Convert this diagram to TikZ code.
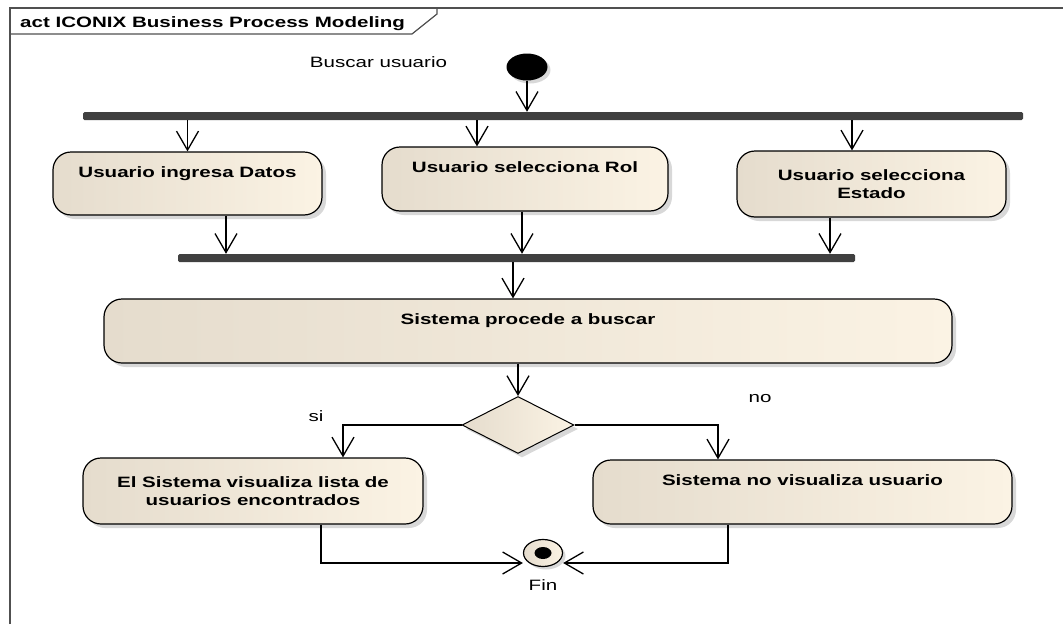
\documentclass[tikz,border=0pt]{standalone}
\usepackage{fontspec}
\setmainfont[FakeStretch=1.37]{Liberation Sans}
\usetikzlibrary{positioning,shapes.geometric,shadows,arrows.meta}

\definecolor{boxleft}{RGB}{229,220,205}
\definecolor{boxright}{RGB}{251,243,228}
\definecolor{bardark}{RGB}{64,64,64}
\definecolor{framegray}{RGB}{80,80,80}

\begin{document}
\begin{tikzpicture}[
x=1pt, y=-1pt,
node distance=8.5pt,
font=\fontsize{15}{18}\selectfont,
box/.style={rectangle, draw, line width=1.2pt, rounded corners=18pt, align=center, inner sep=0pt,
  left color=boxleft, right color=boxright,
  drop shadow={shadow xshift=4pt, shadow yshift=-4pt, fill=black!30},
  font=\fontsize{15}{18}\selectfont\bfseries},
bar/.style={rectangle, fill=bardark, rounded corners=1.5pt, minimum height=8pt, inner sep=0pt},
decision/.style={diamond, draw, line width=1pt, inner sep=0pt, minimum width=112pt, minimum height=57pt,
  left color=boxleft, right color=boxright,
  drop shadow={shadow xshift=4pt, shadow yshift=-4pt, fill=black!30}},
startnode/.style={ellipse, fill=black, minimum width=41pt, minimum height=27pt, inner sep=0pt,
  drop shadow={shadow xshift=3pt, shadow yshift=-3pt, fill=black!30}},
endnode/.style={ellipse, draw, line width=1.2pt, minimum width=39pt, minimum height=27pt, inner sep=0pt,
  left color=boxleft, right color=boxright,
  drop shadow={shadow xshift=3pt, shadow yshift=-3pt, fill=black!30}},
flow/.style={-{Straight Barb[length=19pt,width=22pt]}, line width=1.3pt}
]

\useasboundingbox (0,0) rectangle (1063,624);

\draw[framegray, line width=2pt] (10,624) -- (10,8) -- (1063,8);
\draw[framegray, line width=1.2pt] (10,34) -- (412,34) -- (437,14) -- (437,8);
\node[anchor=base west, inner sep=0pt, font=\fontsize{15}{18}\selectfont\bfseries] (title) at (20,27) {act ICONIX Business Process Modeling};

\node (buscar) at (378.5,62) {Buscar usuario};
\node[startnode] (start) at (527,67) {};

\node[bar, minimum width=940pt] (bar1) at (553,116) {};

\node[box, minimum width=269pt, minimum height=63pt] (datos) at (187.5,183.5) {Usuario ingresa Datos\\[5pt]~};
\node[box, minimum width=286pt, minimum height=64pt] (rol) at (525,179) {Usuario selecciona Rol\\[5pt]~};
\node[box, minimum width=269pt, minimum height=66pt] (estado) at (871.5,184) {Usuario selecciona\\Estado};

\node[bar, minimum width=677pt] (bar2) at (516.5,258) {};

\node[box, minimum width=848pt, minimum height=64pt] (procede) at (528,331) {Sistema procede a buscar\\[5pt]~};

\node[decision] (dec) at (518,425) {};
\node (si) at (316,416) {si};
\node (no) at (760,399) {no};

\node[box, minimum width=340pt, minimum height=66pt] (lista) at (253,491) {El Sistema visualiza lista de\\usuarios encontrados};
\node[box, minimum width=419pt, minimum height=64pt] (novis) at (802.5,492) {Sistema no visualiza usuario\\[5pt]~};

\node[endnode] (fin) at (543,553) {};
\node[ellipse, fill=black, minimum width=17pt, minimum height=12pt, inner sep=0pt] (findot) at (fin) {};
\node[below=of fin] (finlabel) {Fin};

\path (datos.south) ++(38.5,0) coordinate (out1);
\path (rol.north) ++(-48,0) coordinate (in2);
\path (rol.south) ++(-3,0) coordinate (out2);
\path (estado.north) ++(-19.5,0) coordinate (in3);
\path (estado.south) ++(-41.5,0) coordinate (out3);
\path (procede.north) ++(-15,0) coordinate (in4);
\path (lista.north) ++(90,0) coordinate (in5);
\path (novis.north) ++(-84.5,0) coordinate (in6);
\path (lista.south) ++(68,0) coordinate (out5);
\path (novis.south) ++(-74.5,0) coordinate (out6);

\draw[flow] (start) -- (start.south |- bar1.north);
\draw[flow] (datos.north |- bar1.south) -- (datos.north);
\draw[flow] (in2 |- bar1.south) -- (in2);
\draw[flow] (in3 |- bar1.south) -- (in3);
\draw[flow] (out1) -- (out1 |- bar2.north);
\draw[flow] (out2) -- (out2 |- bar2.north);
\draw[flow] (out3) -- (out3 |- bar2.north);
\draw[flow] (in4 |- bar2.south) -- (in4);
\draw[flow] (dec.north |- procede.south) -- (dec.north);
\draw[flow] (dec.west) -| (in5);
\draw[flow] (dec.east) -| (in6);
\draw[flow] (out5) |- ([yshift=-10pt]fin.west);
\draw[flow] (out6) |- ([yshift=-10pt]fin.east);

\end{tikzpicture}
\end{document}
